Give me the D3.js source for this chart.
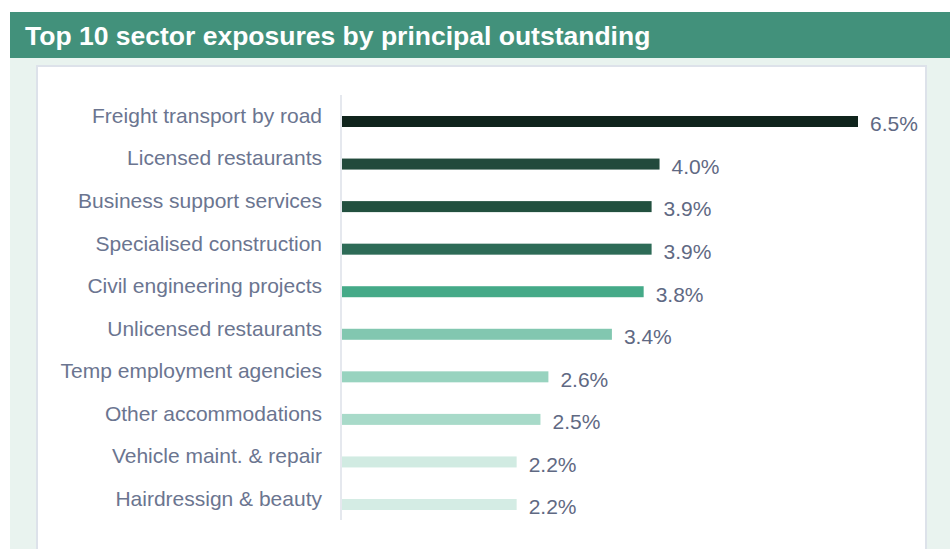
<!DOCTYPE html>
<html>
<head>
<meta charset="utf-8">
<script src="https://cdn.jsdelivr.net/npm/d3@7"></script>
<style>
  html, body { margin: 0; padding: 0; background: #ffffff; }
  svg { display: block; }
</style>
</head>
<body>
<svg id="chart" width="950" height="549"></svg>
<script>
const title = "Top 10 sector exposures by principal outstanding";
const categories = [
  "Freight transport by road",
  "Licensed restaurants",
  "Business support services",
  "Specialised construction",
  "Civil engineering projects",
  "Unlicensed restaurants",
  "Temp employment agencies",
  "Other accommodations",
  "Vehicle maint. & repair",
  "Hairdressign & beauty"
];
const values = [6.5, 4.0, 3.9, 3.9, 3.8, 3.4, 2.6, 2.5, 2.2, 2.2];
const barColors = [
  "#0f241c", "#224a3c", "#22503f", "#2d6b57", "#45aa88",
  "#82c7b0", "#98d3bf", "#a8dac9", "#d1ebe2", "#d4ece4"
];

const svg = d3.select("#chart");
const FONT = "'Liberation Sans', Arial, sans-serif";

// Backgrounds
svg.append("rect").attr("x", 10).attr("y", 58).attr("width", 940).attr("height", 491).attr("fill", "#e9f3ef");
svg.append("rect").attr("x", 10).attr("y", 12).attr("width", 940).attr("height", 46).attr("fill", "#42917b");
svg.append("text")
  .attr("x", 25).attr("y", 45)
  .attr("fill", "#ffffff")
  .attr("font-family", FONT)
  .attr("font-weight", "bold")
  .attr("font-size", 26.5)
  .text(title);

// Panel
svg.append("rect").attr("x", 37).attr("y", 66).attr("width", 889).attr("height", 500)
  .attr("fill", "#ffffff").attr("stroke", "#dde2ea").attr("stroke-width", 2);

const x = d3.scaleLinear().domain([0, 6.5]).range([342, 858]);
const y = d3.scalePoint().domain(categories).range([121.5, 504.5]);
const barH = 11;

// Axis line
svg.append("line").attr("x1", 341).attr("x2", 341).attr("y1", 95).attr("y2", 520)
  .attr("stroke", "#dde1e8").attr("stroke-width", 1.5);

const data = categories.map((c, i) => ({ c, v: values[i], col: barColors[i] }));

svg.selectAll("rect.bar").data(data).join("rect")
  .attr("class", "bar")
  .attr("x", x(0))
  .attr("y", d => y(d.c) - barH / 2)
  .attr("width", d => x(d.v) - x(0))
  .attr("height", barH)
  .attr("fill", d => d.col);

svg.selectAll("text.cat").data(data).join("text")
  .attr("class", "cat")
  .attr("x", 322)
  .attr("y", d => y(d.c) - 6)
  .attr("dy", "0.35em")
  .attr("text-anchor", "end")
  .attr("fill", "#6b7590")
  .attr("font-family", FONT)
  .attr("font-size", 21)
  .text(d => d.c);

svg.selectAll("text.val").data(data).join("text")
  .attr("class", "val")
  .attr("x", d => x(d.v) + 12)
  .attr("y", d => y(d.c) + 2.5)
  .attr("dy", "0.35em")
  .attr("fill", "#5f6983")
  .attr("font-family", FONT)
  .attr("font-size", 21)
  .text(d => d3.format(".1f")(d.v) + "%");
</script>
</body>
</html>
